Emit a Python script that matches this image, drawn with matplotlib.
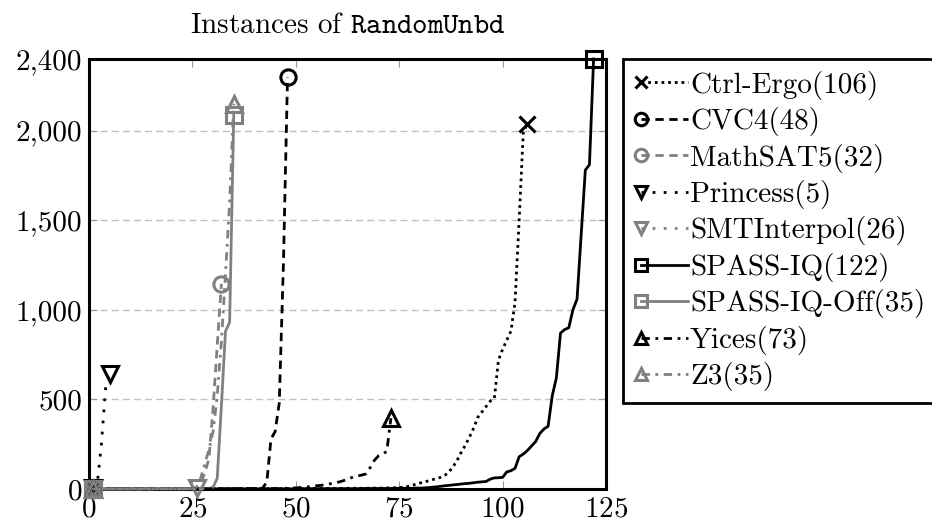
import numpy as np
import matplotlib
matplotlib.use("Agg")
from matplotlib import pyplot as plt, ticker as plticker
from matplotlib.lines import Line2D
from matplotlib.legend_handler import HandlerLine2D

# Sorted solving times per tool (cactus plot)
ctrl_ergo = [0, 0, 0, 0, 0, 0, 0, 0, 0, 0, 0, 0, 0, 0, 0, 1, 1, 1, 1, 1,
             1, 1, 1, 1, 1, 1, 1, 1, 1, 1, 1, 1, 1, 1, 1, 1, 2, 2, 2, 2,
             2, 2, 2, 2, 2, 2, 2, 2, 2, 2, 2, 2, 3, 3, 3, 3, 3, 3, 3, 3,
             3, 3, 4, 4, 4, 4, 4, 5, 5, 5, 5, 6, 6, 7, 8,
             10, 14, 20, 26, 33, 39, 45, 52, 58, 65, 75, 95, 123, 160, 205,
             245, 290, 340, 400, 430, 460, 490, 505, 720, 780, 830, 880,
             1040, 1500, 1990, 2040]
cvc4 = [0, 0, 0, 0, 0, 0, 0, 0, 0, 0, 0, 0, 0, 0, 0, 0, 0, 0, 0, 0,
        1, 1, 1, 1, 1, 1, 1, 1, 1, 1, 1, 1, 1, 1, 1, 2, 2, 2, 2, 2, 2,
        5, 40, 280, 320, 480, 1250, 2300]
mathsat5 = [0, 0, 0, 0, 0, 0, 0, 0, 0, 0, 0, 0, 1, 1, 1, 1, 1, 1, 1, 1, 1, 1, 1, 1,
            3, 8, 30, 90, 170, 450, 800, 1145]
princess = [5, 30, 250, 560, 640]
smtinterpol = [0, 0, 0, 0, 0, 0, 0, 0, 0, 0, 0, 0, 0, 0, 0,
               1, 1, 1, 1, 1, 1, 1, 1, 2, 3, 5]
spass_iq = [0, 0, 0, 0, 0, 0, 0, 0, 0, 0, 0, 0, 0, 0, 0, 0, 0, 0, 0, 0,
            0, 0, 0, 0, 0, 1, 1, 1, 1, 1, 1, 1, 1, 1, 1, 1, 1, 1, 1, 1,
            1, 1, 1, 1, 1, 1, 1, 1, 1, 1, 2, 2, 2, 2, 2, 2, 2, 2, 2, 2,
            2, 2, 2, 2, 2, 3, 3, 3, 3, 3, 3, 3, 3, 4, 4, 4, 4, 4, 5, 5,
            6, 8, 10, 12, 15, 18, 20, 23, 25, 28, 30, 32, 35, 38, 40, 42, 55, 62, 63, 65,
            95, 102, 115, 180, 195, 215, 240, 265, 310, 335, 350, 520, 620, 870, 890,
            900, 1000, 1060, 1420, 1780, 1810, 2400]
spass_iq_off = [0, 0, 0, 0, 0, 0, 0, 0, 0, 0, 0, 0, 0, 0, 0, 1, 1, 1, 1, 1,
                1, 1, 1, 1, 1, 1, 2, 2, 3, 10, 60, 460, 880, 930, 2090]
yices = [0, 0, 0, 0, 0, 0, 0, 0, 0, 0, 0, 0, 0, 0, 0, 0, 0, 0, 0, 0, 0, 0, 0, 0, 0,
         1, 1, 1, 1, 1, 1, 1, 1, 1, 1, 1, 1, 1, 1, 1, 2, 2, 2, 2, 2,
         2, 3, 4, 5, 6, 8, 10, 12, 15, 18, 20, 24, 28, 32, 36, 43, 50, 59, 68,
         73, 78, 85, 120, 160, 185, 195, 210, 395]
z3 = [0, 0, 0, 0, 0, 0, 0, 0, 0, 0, 0, 0, 1, 1, 1, 1, 1, 1, 1, 1, 1, 1, 1, 1,
      3, 10, 60, 140, 220, 320, 520, 820, 1200, 1600, 2150]

names = ["Ctrl-Ergo", "CVC4", "MathSAT5", "Princess", "SMTInterpol",
         "SPASS-IQ", "SPASS-IQ-Off", "Yices", "Z3"]
series = [ctrl_ergo, cvc4, mathsat5, princess, smtinterpol,
          spass_iq, spass_iq_off, yices, z3]
x_ticks = [0, 25, 50, 75, 100, 125]
y_ticks = [0, 500, 1000, 1500, 2000, 2400]

black, grey = "black", "#808080"
styles = [
    dict(color=black, ls=(0, (1, 1.4)), marker="x"),
    dict(color=black, ls=(0, (3, 2)), marker="o"),
    dict(color=grey, ls=(0, (3, 2)), marker="o"),
    dict(color=black, ls=(0, (1, 3)), marker="v"),
    dict(color=grey, ls=(0, (1, 3)), marker="v"),
    dict(color=black, ls="-", marker="s"),
    dict(color=grey, ls="-", marker="s"),
    dict(color=black, ls=(0, (3, 2, 1, 2)), marker="^"),
    dict(color=grey, ls=(0, (3, 2, 1, 2)), marker="^"),
]


class MarkLeft(HandlerLine2D):
    # pgfplots style legend: mark at the left end of the line sample
    def create_artists(self, legend, orig_handle, xdescent, ydescent,
                       width, height, fontsize, trans):
        y = (height - ydescent) / 2
        line = Line2D([-xdescent + 0.2 * fontsize, -xdescent + width], [y, y])
        self.update_prop(line, orig_handle, legend)
        line.set_marker("None")
        line.set_markevery(None)
        mark = Line2D([-xdescent + 0.2 * fontsize], [y])
        self.update_prop(mark, orig_handle, legend)
        mark.set_linestyle("None")
        mark.set_markevery(None)
        mark.set_markersize(9)
        line.set_transform(trans)
        mark.set_transform(trans)
        return [line, mark]


plt.rcParams["font.family"] = "cmr10"
plt.rcParams["mathtext.fontset"] = "cm"
plt.rcParams["axes.formatter.use_mathtext"] = True

fig = plt.figure(figsize=(9.32, 5.26), dpi=100)
ax = fig.add_axes([89 / 932, 37 / 526, 517 / 932, 430 / 526])

handles = []
for name, vals, st in zip(names, series, styles):
    xs = np.arange(1, len(vals) + 1)
    line, = ax.plot(xs, vals, color=st["color"], linestyle=st["ls"], lw=2.0,
                    marker=st["marker"], markevery=[0, len(vals) - 1], ms=11,
                    mew=2.2, fillstyle="none", clip_on=False, zorder=3,
                    label=f"{name}({len(vals)})")
    handles.append(line)

ax.set_xlim(0, 125)
ax.set_ylim(0, 2400)
ax.set_xticks(x_ticks)
ax.set_yticks(y_ticks)
ax.yaxis.set_major_formatter(plticker.StrMethodFormatter("{x:,.0f}"))
ax.tick_params(direction="in", length=6, width=0.8, color="#999999",
               top=True, right=True, labelsize=21, pad=5)
ax.grid(axis="y", linestyle=(0, (5, 3)), color="#c0c0c0", lw=1.0)
for sp in ax.spines.values():
    sp.set_linewidth(2.2)

ax.set_title(r"Instances of $\mathtt{RandomUnbd}$", fontsize=21, pad=19)

leg = fig.legend(handles=handles, loc="upper left",
                 bbox_to_anchor=(623 / 932, 1 - 59 / 526), borderaxespad=0,
                 fontsize=21, fancybox=False, edgecolor="black", framealpha=1,
                 handlelength=1.83, handletextpad=0.07, labelspacing=0.255,
                 borderpad=0.4, numpoints=1,
                 handler_map={Line2D: MarkLeft()})
leg.get_frame().set_linewidth(2.0)

fig.savefig("out.png", dpi=100)
